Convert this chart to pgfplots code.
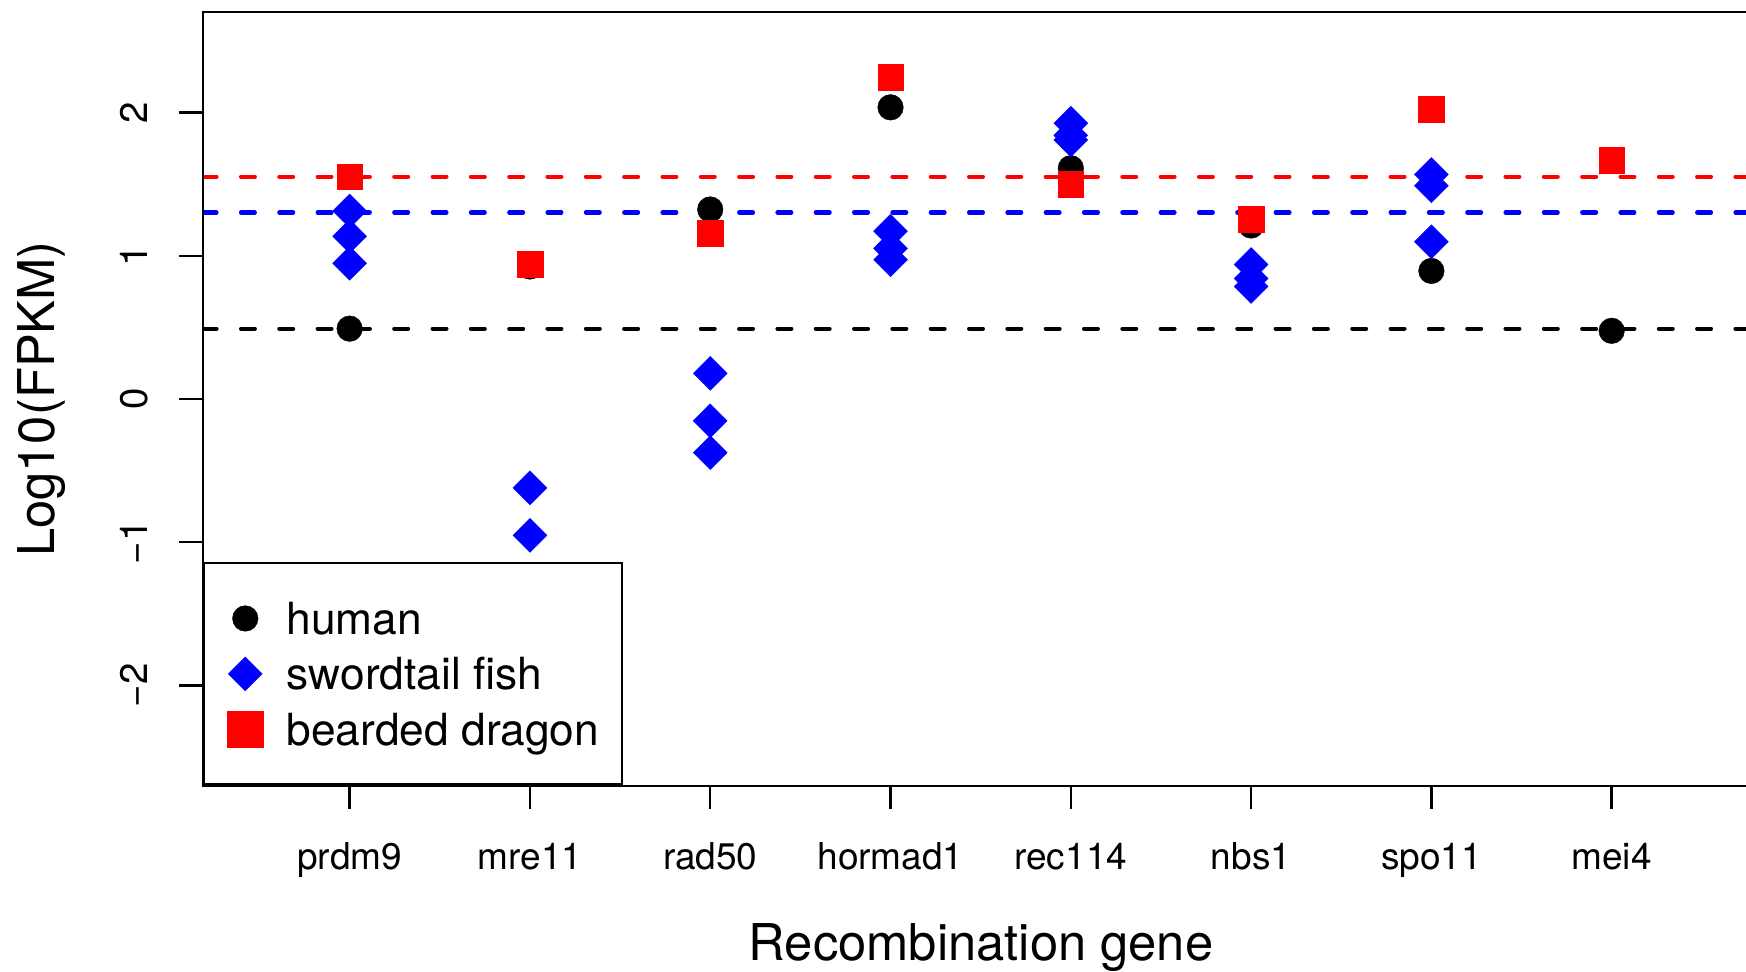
\documentclass[border=0pt]{standalone}
\usepackage{fontspec}
\setmainfont{TeX Gyre Heros}
\usepackage{pgfplots}
\pgfplotsset{compat=1.18}
\definecolor{rred}{rgb}{1,0,0}
\definecolor{rblue}{rgb}{0,0,1}

\pgfplotstableread{
x y
1 0.491
2 0.925
3 1.323
4 2.036
5 1.611
6 1.211
7 0.894
8 0.476
}\human

\pgfplotstableread{
x y
1 1.313
1 1.136
1 0.947
2 -0.620
2 -0.952
3 0.179
3 -0.152
3 -0.374
4 1.172
4 1.051
4 0.972
5 1.925
5 1.840
5 1.809
6 0.939
6 0.841
6 0.786
7 1.567
7 1.488
7 1.098
}\fish

\pgfplotstableread{
x y
1 1.552
2 0.941
3 1.159
4 2.248
5 1.501
6 1.257
7 2.024
8 1.667
}\dragon

\begin{document}
\begin{tikzpicture}
\begin{axis}[
  name=ax, at={(0,0)}, anchor=south west,
  scale only axis, width=385.825pt, height=193.4pt,
  xmin=0.185, xmax=8.745, ymin=-2.7, ymax=2.7,
  axis line style={draw=none},
  tick pos=left, tick align=outside, major tick length=5.85pt,
  tick style={black, line width=0.6pt},
  xtick={1,2,3,4,5,6,7,8},
  xticklabels={prdm9,mre11,rad50,hormad1,rec114,nbs1,spo11,mei4},
  ytick={-2,-1,0,1,2},
  yticklabels={−2,−1,0,1,2},
  xticklabel style={anchor=base, font=\fontsize{9.25}{11}\selectfont},
  yticklabel style={rotate=90, anchor=base, font=\fontsize{9.6}{11}\selectfont},
  xticklabel shift=15.0pt,
  yticklabel shift=8.05pt,
  xlabel={Recombination gene},
  ylabel={Log10(FPKM)},
  xlabel style={at={(axis description cs:0.5043,-0.2252)}, anchor=base, font=\fontsize{12.68}{15}\selectfont},
  ylabel style={at={(axis description cs:-0.0957,0.5)}, anchor=base, font=\fontsize{12.68}{15}\selectfont},
  legend image code/.code={\path[draw=none, fill=none] (-4.55pt,-5pt) rectangle (4.55pt,5pt); \draw[#1] plot coordinates {(0pt,0pt)};},
  legend cell align=left,
  legend style={at={(rel axis cs:0,0)}, anchor=south west, draw=black, line width=0.6pt, fill=white,
    inner xsep=5.8pt, inner ysep=8.83pt, row sep=3.85pt, column sep=5.8pt,
    font=\fontsize{11.07}{13}\selectfont,
    nodes={inner sep=0pt, text height=9pt, text depth=1pt}},
]
\addplot[only marks, mark=*, mark size=3.2pt, black, mark options={line width=0.1pt}] table {\human};
\addplot[only marks, mark=square*, mark size=3.0pt, rblue, mark options={rotate=45, line width=0.1pt}] table {\fish};
\addplot[only marks, mark=square*, mark size=3.2pt, rred, mark options={line width=0.1pt}, legend image post style={mark size=4.4pt}] table {\dragon};
\addplot[rred, line width=1.05pt, dash pattern=on 3.45pt off 6.13pt, line cap=round, forget plot] coordinates {(0.185,1.552) (8.745,1.552)};
\addplot[rblue, line width=1.05pt, dash pattern=on 3.45pt off 6.13pt, line cap=round, forget plot] coordinates {(0.185,1.302) (8.745,1.302)};
\addplot[black, line width=1.05pt, dash pattern=on 3.45pt off 6.13pt, line cap=round, forget plot] coordinates {(0.185,0.491) (8.745,0.491)};
\legend{human, swordtail fish, bearded dragon}
\end{axis}
\draw[line width=0.6pt] (ax.south east) -| (ax.north west) -- (ax.north east);
\pgfresetboundingbox
\useasboundingbox (-50.675pt,-46.55pt) rectangle (385.825pt,196.45pt);
\end{tikzpicture}
\end{document}
